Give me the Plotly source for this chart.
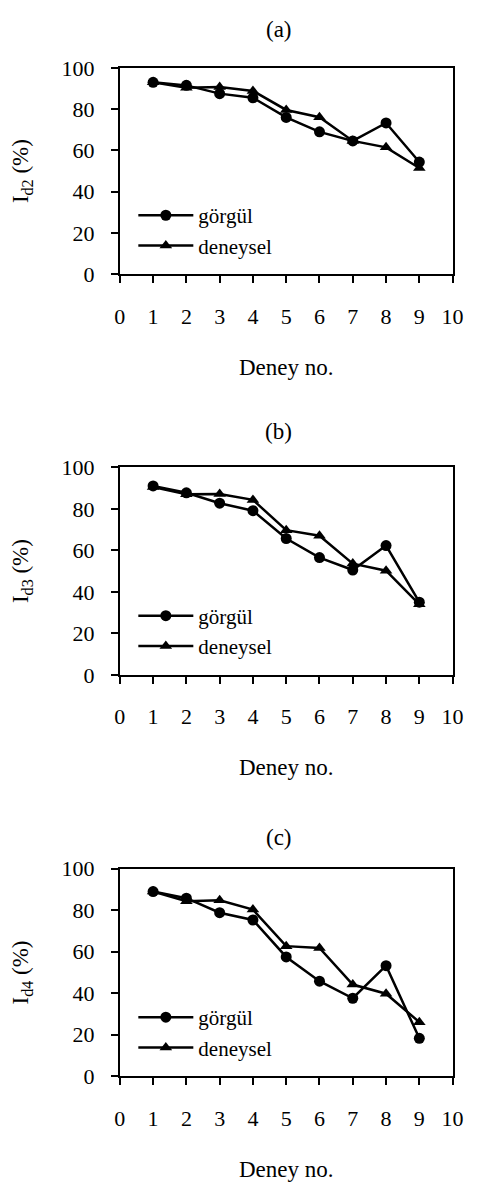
import plotly.graph_objects as go

deney = [1, 2, 3, 4, 5, 6, 7, 8, 9]

a_gorgul = [93.0, 91.5, 87.5, 85.5, 76.0, 69.0, 64.6, 73.3, 54.4]
a_deneysel = [93.0, 90.4, 90.7, 88.8, 79.6, 76.1, 64.6, 61.5, 51.5]

b_gorgul = [91.0, 87.7, 82.7, 79.1, 65.7, 56.5, 50.5, 62.3, 35.0]
b_deneysel = [90.5, 87.0, 87.1, 84.3, 69.7, 67.0, 53.6, 50.2, 34.0]

c_gorgul = [89.0, 85.8, 78.8, 75.3, 57.5, 45.8, 37.6, 53.3, 18.3]
c_deneysel = [89.0, 84.3, 84.8, 80.3, 62.7, 61.8, 44.2, 39.8, 26.1]

panel_titles = ["(a)", "(b)", "(c)"]
y_titles = ["I<sub>d2</sub> (%)", "I<sub>d3</sub> (%)", "I<sub>d4</sub> (%)"]
x_title = "Deney no."
series_names = ["görgül", "deneysel"]
x_ticks = list(range(0, 11))
y_ticks = [0, 20, 40, 60, 80, 100]

W, H = 480, 1197
FONT = "Liberation Serif, Times New Roman, serif"


def px_x(px):
    return px / W


def px_y(px):
    return 1 - px / H


x_dom = [px_x(118), px_x(463)]
panels_px = [(57, 268), (465, 677), (875, 1087)]
title_px = [18, 428, 843]

data = [(a_gorgul, a_deneysel), (b_gorgul, b_deneysel), (c_gorgul, c_deneysel)]

fig = go.Figure()
layout = dict(
    width=W, height=H,
    margin=dict(l=0, r=0, t=0, b=0),
    paper_bgcolor="white", plot_bgcolor="white",
    font=dict(family=FONT, color="black", size=22),
    showlegend=True,
    annotations=[],
)

for i, ((g, d), (top, bot)) in enumerate(zip(data, panels_px)):
    sfx = "" if i == 0 else str(i + 1)
    xa, ya = "x" + sfx, "y" + sfx
    leg = "legend" + sfx
    fig.add_trace(go.Scatter(
        x=deney, y=g, mode="lines+markers", name=series_names[0],
        xaxis=xa, yaxis=ya, legend=leg,
        line=dict(color="black", width=2.5),
        marker=dict(symbol="circle", size=11, color="black"),
    ))
    fig.add_trace(go.Scatter(
        x=deney, y=d, mode="lines+markers", name=series_names[1],
        xaxis=xa, yaxis=ya, legend=leg,
        line=dict(color="black", width=2.5),
        marker=dict(symbol="triangle-up", size=11, color="black"),
    ))
    axis_common = dict(
        showline=True, linecolor="black", linewidth=2, mirror=True,
        ticks="outside", ticklen=7, tickwidth=2, tickcolor="black",
        showgrid=False, zeroline=False,
        tickfont=dict(family=FONT, size=22, color="black"),
    )
    layout["xaxis" + sfx] = dict(
        axis_common, domain=x_dom, anchor=ya, range=[0, 10],
        tickvals=x_ticks, ticklabelstandoff=14, ticklabeloverflow="allow",
        title=dict(text=x_title, font=dict(family=FONT, size=23), standoff=31),
    )
    layout["yaxis" + sfx] = dict(
        axis_common, domain=[px_y(bot), px_y(top)], anchor=xa, range=[0, 100],
        tickvals=y_ticks, ticklabelstandoff=12,
        title=dict(text=y_titles[i], font=dict(family=FONT, size=23), standoff=26),
    )
    layout[leg] = dict(
        x=px_x(132), xanchor="left", y=px_y(bot - 81), yanchor="top",
        bgcolor="rgba(0,0,0,0)", font=dict(family=FONT, size=21),
        itemwidth=55, tracegroupgap=0,
    )
    layout["annotations"].append(dict(
        text=panel_titles[i], xref="paper", yref="paper",
        x=px_x(283), y=px_y(title_px[i]), xanchor="center", yanchor="middle",
        showarrow=False, font=dict(family=FONT, size=23),
    ))

fig.update_layout(**layout)
fig.write_html(
    "out.html",
    config={"displayModeBar": False},
    post_script="document.body.style.margin='0';document.body.style.overflow='hidden';",
)
